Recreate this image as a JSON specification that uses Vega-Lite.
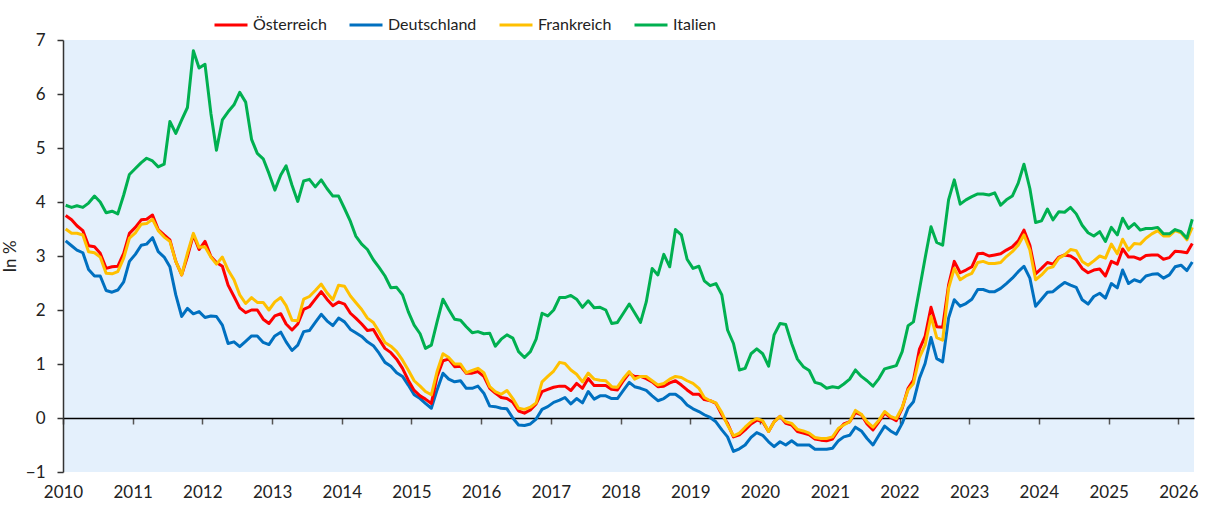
{
"$schema":"https://vega.github.io/schema/vega-lite/v6.json",
"width":1131,"height":432,
"autosize":{"type":"none"},
"padding":{"left":63,"top":40,"right":13,"bottom":34},
"background":"white",
"config":{"view":{"fill":"#e4f0fc","stroke":null},"font":"Lato"},
"data":{"values":[
{"d":"2010-01-15","AT":3.75,"DE":3.28,"FR":3.50,"IT":3.94},
{"d":"2010-02-15","AT":3.67,"DE":3.19,"FR":3.42,"IT":3.90},
{"d":"2010-03-15","AT":3.56,"DE":3.11,"FR":3.42,"IT":3.93},
{"d":"2010-04-15","AT":3.47,"DE":3.06,"FR":3.39,"IT":3.90},
{"d":"2010-05-15","AT":3.19,"DE":2.75,"FR":3.08,"IT":3.98},
{"d":"2010-06-15","AT":3.17,"DE":2.63,"FR":3.06,"IT":4.11},
{"d":"2010-07-15","AT":3.05,"DE":2.63,"FR":2.98,"IT":4.00},
{"d":"2010-08-15","AT":2.77,"DE":2.36,"FR":2.68,"IT":3.80},
{"d":"2010-09-15","AT":2.80,"DE":2.33,"FR":2.67,"IT":3.83},
{"d":"2010-10-15","AT":2.81,"DE":2.37,"FR":2.71,"IT":3.78},
{"d":"2010-11-15","AT":3.05,"DE":2.52,"FR":2.96,"IT":4.13},
{"d":"2010-12-15","AT":3.42,"DE":2.90,"FR":3.33,"IT":4.51},
{"d":"2011-01-15","AT":3.53,"DE":3.03,"FR":3.43,"IT":4.62},
{"d":"2011-02-15","AT":3.67,"DE":3.20,"FR":3.59,"IT":4.73},
{"d":"2011-03-15","AT":3.68,"DE":3.22,"FR":3.60,"IT":4.81},
{"d":"2011-04-15","AT":3.76,"DE":3.34,"FR":3.68,"IT":4.76},
{"d":"2011-05-15","AT":3.49,"DE":3.08,"FR":3.47,"IT":4.65},
{"d":"2011-06-15","AT":3.39,"DE":2.98,"FR":3.35,"IT":4.70},
{"d":"2011-07-15","AT":3.30,"DE":2.80,"FR":3.27,"IT":5.49},
{"d":"2011-08-15","AT":2.90,"DE":2.28,"FR":2.90,"IT":5.27},
{"d":"2011-09-15","AT":2.65,"DE":1.88,"FR":2.65,"IT":5.52},
{"d":"2011-10-15","AT":2.99,"DE":2.03,"FR":3.05,"IT":5.75},
{"d":"2011-11-15","AT":3.39,"DE":1.93,"FR":3.42,"IT":6.80},
{"d":"2011-12-15","AT":3.12,"DE":1.97,"FR":3.16,"IT":6.48},
{"d":"2012-01-15","AT":3.27,"DE":1.86,"FR":3.17,"IT":6.55},
{"d":"2012-02-15","AT":2.99,"DE":1.89,"FR":2.98,"IT":5.64},
{"d":"2012-03-15","AT":2.88,"DE":1.88,"FR":2.85,"IT":4.96},
{"d":"2012-04-15","AT":2.81,"DE":1.72,"FR":2.98,"IT":5.52},
{"d":"2012-05-15","AT":2.46,"DE":1.38,"FR":2.74,"IT":5.67},
{"d":"2012-06-15","AT":2.25,"DE":1.41,"FR":2.56,"IT":5.80},
{"d":"2012-07-15","AT":2.04,"DE":1.32,"FR":2.28,"IT":6.03},
{"d":"2012-08-15","AT":1.95,"DE":1.42,"FR":2.12,"IT":5.85},
{"d":"2012-09-15","AT":2.00,"DE":1.52,"FR":2.23,"IT":5.16},
{"d":"2012-10-15","AT":2.00,"DE":1.52,"FR":2.14,"IT":4.90},
{"d":"2012-11-15","AT":1.83,"DE":1.40,"FR":2.14,"IT":4.80},
{"d":"2012-12-15","AT":1.75,"DE":1.36,"FR":2.00,"IT":4.53},
{"d":"2013-01-15","AT":1.89,"DE":1.52,"FR":2.15,"IT":4.22},
{"d":"2013-02-15","AT":1.93,"DE":1.59,"FR":2.23,"IT":4.50},
{"d":"2013-03-15","AT":1.74,"DE":1.41,"FR":2.08,"IT":4.67},
{"d":"2013-04-15","AT":1.63,"DE":1.25,"FR":1.81,"IT":4.31},
{"d":"2013-05-15","AT":1.74,"DE":1.35,"FR":1.80,"IT":4.01},
{"d":"2013-06-15","AT":2.01,"DE":1.60,"FR":2.20,"IT":4.39},
{"d":"2013-07-15","AT":2.06,"DE":1.62,"FR":2.25,"IT":4.42},
{"d":"2013-08-15","AT":2.20,"DE":1.77,"FR":2.36,"IT":4.28},
{"d":"2013-09-15","AT":2.34,"DE":1.92,"FR":2.48,"IT":4.41},
{"d":"2013-10-15","AT":2.20,"DE":1.80,"FR":2.32,"IT":4.25},
{"d":"2013-11-15","AT":2.08,"DE":1.71,"FR":2.19,"IT":4.11},
{"d":"2013-12-15","AT":2.15,"DE":1.85,"FR":2.46,"IT":4.11},
{"d":"2014-01-15","AT":2.11,"DE":1.78,"FR":2.44,"IT":3.88},
{"d":"2014-02-15","AT":1.94,"DE":1.64,"FR":2.26,"IT":3.64},
{"d":"2014-03-15","AT":1.85,"DE":1.58,"FR":2.14,"IT":3.37},
{"d":"2014-04-15","AT":1.74,"DE":1.51,"FR":2.01,"IT":3.22},
{"d":"2014-05-15","AT":1.62,"DE":1.41,"FR":1.85,"IT":3.12},
{"d":"2014-06-15","AT":1.64,"DE":1.34,"FR":1.77,"IT":2.93},
{"d":"2014-07-15","AT":1.46,"DE":1.20,"FR":1.60,"IT":2.79},
{"d":"2014-08-15","AT":1.29,"DE":1.03,"FR":1.40,"IT":2.63},
{"d":"2014-09-15","AT":1.21,"DE":0.96,"FR":1.33,"IT":2.41},
{"d":"2014-10-15","AT":1.09,"DE":0.84,"FR":1.23,"IT":2.42},
{"d":"2014-11-15","AT":0.92,"DE":0.77,"FR":1.07,"IT":2.28},
{"d":"2014-12-15","AT":0.70,"DE":0.61,"FR":0.89,"IT":1.97},
{"d":"2015-01-15","AT":0.51,"DE":0.43,"FR":0.69,"IT":1.72},
{"d":"2015-02-15","AT":0.41,"DE":0.36,"FR":0.59,"IT":1.56},
{"d":"2015-03-15","AT":0.35,"DE":0.27,"FR":0.49,"IT":1.29},
{"d":"2015-04-15","AT":0.27,"DE":0.18,"FR":0.43,"IT":1.35},
{"d":"2015-05-15","AT":0.77,"DE":0.52,"FR":0.86,"IT":1.78},
{"d":"2015-06-15","AT":1.06,"DE":0.83,"FR":1.19,"IT":2.20},
{"d":"2015-07-15","AT":1.09,"DE":0.72,"FR":1.12,"IT":2.01},
{"d":"2015-08-15","AT":0.95,"DE":0.67,"FR":1.00,"IT":1.83},
{"d":"2015-09-15","AT":0.96,"DE":0.69,"FR":1.00,"IT":1.81},
{"d":"2015-10-15","AT":0.83,"DE":0.55,"FR":0.84,"IT":1.69},
{"d":"2015-11-15","AT":0.83,"DE":0.55,"FR":0.88,"IT":1.58},
{"d":"2015-12-15","AT":0.86,"DE":0.59,"FR":0.92,"IT":1.60},
{"d":"2016-01-15","AT":0.77,"DE":0.46,"FR":0.84,"IT":1.56},
{"d":"2016-02-15","AT":0.55,"DE":0.22,"FR":0.58,"IT":1.57},
{"d":"2016-03-15","AT":0.46,"DE":0.21,"FR":0.49,"IT":1.33},
{"d":"2016-04-15","AT":0.38,"DE":0.18,"FR":0.44,"IT":1.46},
{"d":"2016-05-15","AT":0.36,"DE":0.17,"FR":0.51,"IT":1.54},
{"d":"2016-06-15","AT":0.29,"DE":0.00,"FR":0.36,"IT":1.48},
{"d":"2016-07-15","AT":0.13,"DE":-0.13,"FR":0.18,"IT":1.23},
{"d":"2016-08-15","AT":0.09,"DE":-0.14,"FR":0.16,"IT":1.12},
{"d":"2016-09-15","AT":0.15,"DE":-0.11,"FR":0.20,"IT":1.23},
{"d":"2016-10-15","AT":0.26,"DE":-0.02,"FR":0.28,"IT":1.46},
{"d":"2016-11-15","AT":0.49,"DE":0.16,"FR":0.67,"IT":1.94},
{"d":"2016-12-15","AT":0.53,"DE":0.21,"FR":0.77,"IT":1.89},
{"d":"2017-01-15","AT":0.57,"DE":0.29,"FR":0.87,"IT":2.00},
{"d":"2017-02-15","AT":0.59,"DE":0.33,"FR":1.03,"IT":2.23},
{"d":"2017-03-15","AT":0.59,"DE":0.38,"FR":1.01,"IT":2.23},
{"d":"2017-04-15","AT":0.51,"DE":0.26,"FR":0.89,"IT":2.27},
{"d":"2017-05-15","AT":0.64,"DE":0.36,"FR":0.81,"IT":2.20},
{"d":"2017-06-15","AT":0.55,"DE":0.28,"FR":0.67,"IT":2.05},
{"d":"2017-07-15","AT":0.73,"DE":0.49,"FR":0.83,"IT":2.17},
{"d":"2017-08-15","AT":0.60,"DE":0.35,"FR":0.72,"IT":2.04},
{"d":"2017-09-15","AT":0.60,"DE":0.41,"FR":0.70,"IT":2.05},
{"d":"2017-10-15","AT":0.60,"DE":0.41,"FR":0.69,"IT":2.00},
{"d":"2017-11-15","AT":0.53,"DE":0.36,"FR":0.58,"IT":1.75},
{"d":"2017-12-15","AT":0.52,"DE":0.36,"FR":0.57,"IT":1.77},
{"d":"2018-01-15","AT":0.69,"DE":0.51,"FR":0.73,"IT":1.94},
{"d":"2018-02-15","AT":0.83,"DE":0.66,"FR":0.86,"IT":2.11},
{"d":"2018-03-15","AT":0.77,"DE":0.58,"FR":0.72,"IT":1.95},
{"d":"2018-04-15","AT":0.77,"DE":0.55,"FR":0.77,"IT":1.77},
{"d":"2018-05-15","AT":0.73,"DE":0.51,"FR":0.77,"IT":2.15},
{"d":"2018-06-15","AT":0.67,"DE":0.41,"FR":0.69,"IT":2.77},
{"d":"2018-07-15","AT":0.58,"DE":0.32,"FR":0.61,"IT":2.65},
{"d":"2018-08-15","AT":0.59,"DE":0.36,"FR":0.64,"IT":3.03},
{"d":"2018-09-15","AT":0.65,"DE":0.44,"FR":0.72,"IT":2.80},
{"d":"2018-10-15","AT":0.69,"DE":0.44,"FR":0.77,"IT":3.49},
{"d":"2018-11-15","AT":0.61,"DE":0.36,"FR":0.75,"IT":3.39},
{"d":"2018-12-15","AT":0.52,"DE":0.24,"FR":0.69,"IT":2.94},
{"d":"2019-01-15","AT":0.44,"DE":0.17,"FR":0.64,"IT":2.77},
{"d":"2019-02-15","AT":0.44,"DE":0.12,"FR":0.55,"IT":2.81},
{"d":"2019-03-15","AT":0.34,"DE":0.06,"FR":0.38,"IT":2.54},
{"d":"2019-04-15","AT":0.32,"DE":0.01,"FR":0.32,"IT":2.45},
{"d":"2019-05-15","AT":0.27,"DE":-0.07,"FR":0.28,"IT":2.49},
{"d":"2019-06-15","AT":0.06,"DE":-0.22,"FR":0.10,"IT":2.28},
{"d":"2019-07-15","AT":-0.10,"DE":-0.35,"FR":-0.13,"IT":1.63},
{"d":"2019-08-15","AT":-0.35,"DE":-0.62,"FR":-0.33,"IT":1.38},
{"d":"2019-09-15","AT":-0.31,"DE":-0.57,"FR":-0.28,"IT":0.89},
{"d":"2019-10-15","AT":-0.22,"DE":-0.50,"FR":-0.17,"IT":0.92},
{"d":"2019-11-15","AT":-0.11,"DE":-0.36,"FR":-0.07,"IT":1.19},
{"d":"2019-12-15","AT":-0.04,"DE":-0.27,"FR":-0.01,"IT":1.28},
{"d":"2020-01-15","AT":-0.07,"DE":-0.32,"FR":-0.05,"IT":1.19},
{"d":"2020-02-15","AT":-0.25,"DE":-0.44,"FR":-0.25,"IT":0.96},
{"d":"2020-03-15","AT":-0.07,"DE":-0.53,"FR":-0.07,"IT":1.54},
{"d":"2020-04-15","AT":0.03,"DE":-0.44,"FR":0.03,"IT":1.75},
{"d":"2020-05-15","AT":-0.10,"DE":-0.50,"FR":-0.07,"IT":1.73},
{"d":"2020-06-15","AT":-0.13,"DE":-0.42,"FR":-0.10,"IT":1.38},
{"d":"2020-07-15","AT":-0.25,"DE":-0.50,"FR":-0.21,"IT":1.09},
{"d":"2020-08-15","AT":-0.28,"DE":-0.50,"FR":-0.24,"IT":0.95},
{"d":"2020-09-15","AT":-0.31,"DE":-0.50,"FR":-0.28,"IT":0.88},
{"d":"2020-10-15","AT":-0.39,"DE":-0.58,"FR":-0.36,"IT":0.66},
{"d":"2020-11-15","AT":-0.41,"DE":-0.58,"FR":-0.38,"IT":0.63},
{"d":"2020-12-15","AT":-0.42,"DE":-0.58,"FR":-0.38,"IT":0.55},
{"d":"2021-01-15","AT":-0.39,"DE":-0.56,"FR":-0.35,"IT":0.58},
{"d":"2021-02-15","AT":-0.22,"DE":-0.42,"FR":-0.19,"IT":0.56},
{"d":"2021-03-15","AT":-0.11,"DE":-0.35,"FR":-0.13,"IT":0.63},
{"d":"2021-04-15","AT":-0.07,"DE":-0.32,"FR":-0.07,"IT":0.72},
{"d":"2021-05-15","AT":0.10,"DE":-0.17,"FR":0.14,"IT":0.89},
{"d":"2021-06-15","AT":0.06,"DE":-0.24,"FR":0.07,"IT":0.77},
{"d":"2021-07-15","AT":-0.11,"DE":-0.38,"FR":-0.07,"IT":0.69},
{"d":"2021-08-15","AT":-0.22,"DE":-0.50,"FR":-0.17,"IT":0.59},
{"d":"2021-09-15","AT":-0.07,"DE":-0.32,"FR":-0.04,"IT":0.73},
{"d":"2021-10-15","AT":0.09,"DE":-0.15,"FR":0.12,"IT":0.91},
{"d":"2021-11-15","AT":0.01,"DE":-0.24,"FR":0.03,"IT":0.94},
{"d":"2021-12-15","AT":-0.05,"DE":-0.30,"FR":-0.01,"IT":0.97},
{"d":"2022-01-15","AT":0.18,"DE":-0.10,"FR":0.20,"IT":1.23},
{"d":"2022-02-15","AT":0.55,"DE":0.18,"FR":0.52,"IT":1.71},
{"d":"2022-03-15","AT":0.70,"DE":0.30,"FR":0.64,"IT":1.78},
{"d":"2022-04-15","AT":1.27,"DE":0.73,"FR":1.12,"IT":2.37},
{"d":"2022-05-15","AT":1.51,"DE":1.01,"FR":1.35,"IT":2.96},
{"d":"2022-06-15","AT":2.05,"DE":1.49,"FR":1.88,"IT":3.54},
{"d":"2022-07-15","AT":1.69,"DE":1.10,"FR":1.49,"IT":3.25},
{"d":"2022-08-15","AT":1.68,"DE":1.04,"FR":1.44,"IT":3.20},
{"d":"2022-09-15","AT":2.46,"DE":1.85,"FR":2.40,"IT":4.04},
{"d":"2022-10-15","AT":2.90,"DE":2.19,"FR":2.77,"IT":4.41},
{"d":"2022-11-15","AT":2.69,"DE":2.07,"FR":2.56,"IT":3.96},
{"d":"2022-12-15","AT":2.74,"DE":2.12,"FR":2.63,"IT":4.04},
{"d":"2023-01-15","AT":2.80,"DE":2.20,"FR":2.68,"IT":4.10},
{"d":"2023-02-15","AT":3.04,"DE":2.38,"FR":2.88,"IT":4.15},
{"d":"2023-03-15","AT":3.05,"DE":2.38,"FR":2.90,"IT":4.15},
{"d":"2023-04-15","AT":3.00,"DE":2.34,"FR":2.86,"IT":4.13},
{"d":"2023-05-15","AT":3.02,"DE":2.34,"FR":2.86,"IT":4.17},
{"d":"2023-06-15","AT":3.04,"DE":2.40,"FR":2.88,"IT":3.94},
{"d":"2023-07-15","AT":3.11,"DE":2.49,"FR":2.99,"IT":4.04},
{"d":"2023-08-15","AT":3.17,"DE":2.59,"FR":3.08,"IT":4.11},
{"d":"2023-09-15","AT":3.28,"DE":2.71,"FR":3.20,"IT":4.35},
{"d":"2023-10-15","AT":3.48,"DE":2.81,"FR":3.39,"IT":4.70},
{"d":"2023-11-15","AT":3.20,"DE":2.59,"FR":3.11,"IT":4.25},
{"d":"2023-12-15","AT":2.67,"DE":2.07,"FR":2.56,"IT":3.62},
{"d":"2024-01-15","AT":2.77,"DE":2.20,"FR":2.65,"IT":3.65},
{"d":"2024-02-15","AT":2.88,"DE":2.33,"FR":2.77,"IT":3.87},
{"d":"2024-03-15","AT":2.85,"DE":2.34,"FR":2.80,"IT":3.67},
{"d":"2024-04-15","AT":2.98,"DE":2.43,"FR":2.96,"IT":3.82},
{"d":"2024-05-15","AT":3.02,"DE":2.51,"FR":3.02,"IT":3.81},
{"d":"2024-06-15","AT":3.00,"DE":2.46,"FR":3.12,"IT":3.90},
{"d":"2024-07-15","AT":2.93,"DE":2.42,"FR":3.10,"IT":3.78},
{"d":"2024-08-15","AT":2.77,"DE":2.19,"FR":2.90,"IT":3.57},
{"d":"2024-09-15","AT":2.69,"DE":2.11,"FR":2.83,"IT":3.43},
{"d":"2024-10-15","AT":2.74,"DE":2.25,"FR":2.91,"IT":3.37},
{"d":"2024-11-15","AT":2.76,"DE":2.31,"FR":3.00,"IT":3.45},
{"d":"2024-12-15","AT":2.63,"DE":2.22,"FR":2.96,"IT":3.27},
{"d":"2025-01-15","AT":2.90,"DE":2.49,"FR":3.22,"IT":3.53},
{"d":"2025-02-15","AT":2.85,"DE":2.41,"FR":3.04,"IT":3.39},
{"d":"2025-03-15","AT":3.13,"DE":2.74,"FR":3.31,"IT":3.70},
{"d":"2025-04-15","AT":2.98,"DE":2.49,"FR":3.11,"IT":3.51},
{"d":"2025-05-15","AT":2.98,"DE":2.56,"FR":3.23,"IT":3.60},
{"d":"2025-06-15","AT":2.94,"DE":2.52,"FR":3.22,"IT":3.48},
{"d":"2025-07-15","AT":3.01,"DE":2.63,"FR":3.33,"IT":3.51},
{"d":"2025-08-15","AT":3.02,"DE":2.66,"FR":3.41,"IT":3.51},
{"d":"2025-09-15","AT":3.02,"DE":2.67,"FR":3.47,"IT":3.53},
{"d":"2025-10-15","AT":2.94,"DE":2.59,"FR":3.37,"IT":3.41},
{"d":"2025-11-15","AT":2.97,"DE":2.65,"FR":3.37,"IT":3.41},
{"d":"2025-12-15","AT":3.09,"DE":2.80,"FR":3.47,"IT":3.49},
{"d":"2026-01-15","AT":3.08,"DE":2.83,"FR":3.43,"IT":3.45},
{"d":"2026-02-15","AT":3.06,"DE":2.73,"FR":3.30,"IT":3.33},
{"d":"2026-03-15","AT":3.23,"DE":2.89,"FR":3.53,"IT":3.68}
]},
"transform":[{"fold":["DE","AT","FR","IT"],"as":["land","wert"]}],
"mark":{"type":"line","strokeWidth":3,"strokeJoin":"round"},
"encoding":{
"x":{"field":"d","type":"temporal",
"scale":{"type":"utc","domain":[{"year":2010,"month":1,"date":1,"utc":true},{"year":2026,"month":3,"date":24,"utc":true}]},
"axis":{"title":null,"format":"%Y","tickCount":{"interval":"year","step":1},"offset":-54,"grid":false,
"domainColor":"black","domainWidth":1.5,"tickColor":"#555","tickSize":6,"tickWidth":1.5,
"labelPadding":60,"labelFontSize":17,"labelColor":"#222","labelFlush":false}},
"y":{"field":"wert","type":"quantitative",
"scale":{"domain":[-1,7],"nice":false,"zero":false},
"axis":{"title":"In %","values":[-1,0,1,2,3,4,5,6,7],"grid":false,
"domainColor":"#333","domainWidth":1.5,"tickColor":"#333","tickSize":6,"tickWidth":1.5,
"labelPadding":12,"labelFontSize":17,"labelColor":"#222",
"titleFontSize":17,"titleFontWeight":"normal","titleColor":"#222","titlePadding":6}},
"color":{"field":"land","type":"nominal",
"scale":{"domain":["AT","DE","FR","IT"],"range":["#ff0000","#0070c0","#ffc000","#00b050"]},
"legend":{"title":null,"orient":"none","legendX":150,"legendY":-33,"direction":"horizontal",
"symbolType":"stroke","symbolSize":1089,"symbolStrokeWidth":3,
"labelFontSize":16,"labelColor":"#222","columnPadding":16,"labelOffset":4,"padding":0,
"labelExpr":"{'AT':'Österreich','DE':'Deutschland','FR':'Frankreich','IT':'Italien'}[datum.label]"}}
}
}
